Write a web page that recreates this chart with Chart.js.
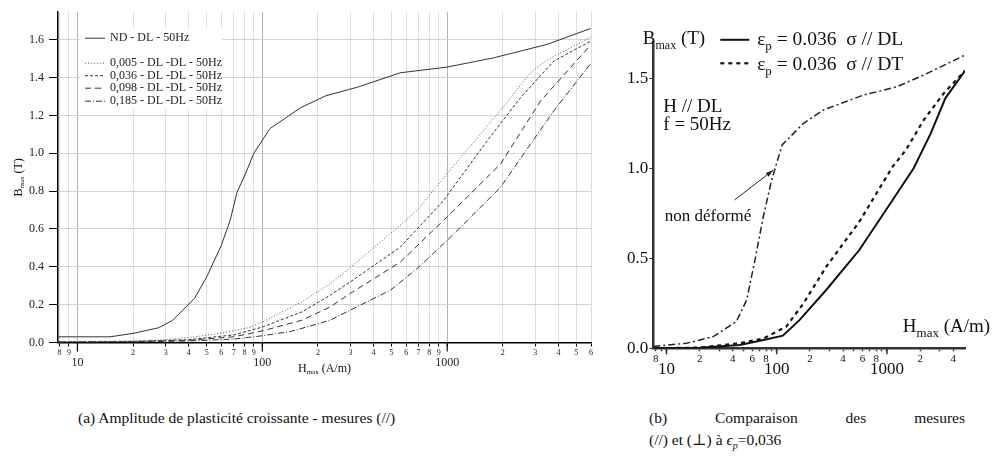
<!DOCTYPE html>
<html>
<head>
<meta charset="utf-8">
<script src="https://cdn.jsdelivr.net/npm/chart.js@4.4.1/dist/chart.umd.min.js"></script>
<style>
  body { margin: 0; background: #fff; width: 993px; height: 474px; position: relative; overflow: hidden; }
  #chartA { position: absolute; left: 0; top: 0; }
  #chartB { position: absolute; left: 605px; top: 0; }
  .cap { position: absolute; font-family: "Liberation Serif", "Tinos", "Times New Roman", "DejaVu Serif", serif; font-size: 15.5px; color: #111; white-space: nowrap; }
  #capA { left: 78px; top: 409px; }
  #capB1 { left: 649px; top: 409px; width: 316px; display: flex; justify-content: space-between; }
  #capB2 { left: 649px; top: 431px; }
</style>
</head>
<body>
<canvas id="chartA" width="600" height="400"></canvas>
<canvas id="chartB" width="388" height="400"></canvas>
<div class="cap" id="capA">(a) Amplitude de plasticité croissante - mesures (//)</div>
<div class="cap" id="capB1"><span>(b)</span><span>Comparaison</span><span>des</span><span>mesures</span></div>
<div class="cap" id="capB2">(//) et (⊥) à <i>ϵ<sub style="font-size:10px">p</sub></i>=0,036</div>

<script>
// ---- (a) amplitude de plasticité croissante ----
const hNd = [7.9, 10, 15, 20, 27.5, 32.5, 43, 50, 60, 67, 73, 81, 90, 110, 161, 220, 330, 558, 1000, 1786, 3475, 5970]
const bNd = [0.03, 0.03, 0.03, 0.048, 0.078, 0.115, 0.233, 0.346, 0.513, 0.645, 0.794, 0.89, 1.0, 1.13, 1.24, 1.303, 1.35, 1.425, 1.455, 1.504, 1.575, 1.659]
const h005 = [7.9, 20, 30, 43, 60, 84, 101, 164, 233, 299, 493, 687, 956, 1866, 2825, 3400, 5970]
const b005 = [0.005, 0.008, 0.015, 0.03, 0.05, 0.078, 0.11, 0.215, 0.31, 0.396, 0.575, 0.697, 0.87, 1.206, 1.425, 1.487, 1.613]
const h036 = [7.9, 20, 40, 70, 101, 164, 233, 299, 558, 956, 1648, 2496, 3776, 5970]
const b036 = [0.003, 0.006, 0.015, 0.04, 0.083, 0.162, 0.25, 0.32, 0.504, 0.75, 1.066, 1.294, 1.487, 1.592]
const h098 = [7.9, 20, 40, 70, 101, 164, 233, 299, 558, 956, 1944, 3200, 5970]
const b098 = [0.002, 0.004, 0.012, 0.03, 0.062, 0.118, 0.188, 0.259, 0.425, 0.645, 0.943, 1.276, 1.571]
const h185 = [7.9, 20, 40, 70, 101, 142, 164, 233, 299, 493, 687, 1000, 1944, 2825, 3776, 5970]
const b185 = [0.001, 0.003, 0.008, 0.018, 0.036, 0.058, 0.075, 0.118, 0.171, 0.276, 0.39, 0.539, 0.82, 1.048, 1.224, 1.473]
const labelsA = ['ND - DL - 50Hz', '0,005 - DL -DL - 50Hz', '0,036 - DL -DL - 50Hz', '0,098 - DL -DL - 50Hz', '0,185 - DL -DL - 50Hz']
const xTicksA = [8, 9, 10, 20, 30, 40, 50, 60, 70, 80, 90, 100, 200, 300, 400, 500, 600, 700, 800, 900, 1000, 2000, 3000, 4000, 5000, 6000]
const majorA = [10, 100, 1000]
const yTicksA = [0, 0.2, 0.4, 0.6, 0.8, 1.0, 1.2, 1.4, 1.6]

// ---- (b) comparaison // et perpendiculaire ----
const hDL = [7.6, 20, 46, 76, 113.5, 160, 281, 561, 1125, 1745, 2476, 3390, 5100]
const bDL = [0, 0.003, 0.018, 0.046, 0.07, 0.155, 0.324, 0.546, 0.824, 1.0, 1.19, 1.39, 1.542]
const hDT = [7.6, 20, 46, 76, 122, 175, 281, 561, 1125, 1486, 2153, 3273, 5100]
const bDT = [0, 0.004, 0.028, 0.055, 0.12, 0.25, 0.453, 0.703, 1.009, 1.102, 1.268, 1.417, 1.542]
const hRef = [7.6, 15.2, 26.6, 43, 53.4, 63.5, 75.5, 90, 112, 175, 265, 612, 1232, 2153, 5100]
const bRef = [0.01, 0.028, 0.065, 0.148, 0.268, 0.49, 0.731, 0.935, 1.13, 1.25, 1.324, 1.407, 1.453, 1.518, 1.629]
const xTicksB = [8, 9, 10, 20, 30, 40, 50, 60, 70, 80, 90, 100, 200, 300, 400, 500, 600, 700, 800, 900, 1000, 2000, 3000, 4000]
const labeledB = [8, 20, 40, 60, 80, 200, 400, 600, 800, 2000, 4000]
const majorB = [10, 100, 1000]
const yTicksB = [0, 0.5, 1.0, 1.5]

const SERIF = '"Liberation Serif", "Tinos", "Times New Roman", "DejaVu Serif", serif'
const pts = (hs, bs) => hs.map((h, i) => ({ x: h, y: bs[i] }))

// text with sub-parts: [text, size, dy]
function drawRich(ctx, x, y, parts, align) {
  let w = 0
  parts.forEach(p => { ctx.font = p[1] + 'px ' + SERIF; w += ctx.measureText(p[0]).width })
  if (align === 'center') x -= w / 2
  parts.forEach(p => {
    ctx.font = p[1] + 'px ' + SERIF
    ctx.fillText(p[0], x, y + (p[2] || 0))
    x += ctx.measureText(p[0]).width
  })
}

function line(ctx, x1, y1, x2, y2, ds) {
  ctx.save()
  ctx.strokeStyle = ds.borderColor
  ctx.lineWidth = ds.borderWidth
  ctx.setLineDash(ds.borderDash || [])
  ctx.beginPath()
  ctx.moveTo(x1, y1)
  ctx.lineTo(x2, y2)
  ctx.stroke()
  ctx.restore()
}

const decorA = {
  id: 'decorA',
  afterDraw(chart) {
    const { ctx, chartArea: a, scales } = chart
    // longer ticks on decades
    ctx.save()
    ctx.strokeStyle = '#000'
    ctx.lineWidth = 1.2
    majorA.forEach(v => {
      const px = scales.x.getPixelForValue(v)
      ctx.beginPath(); ctx.moveTo(px, a.bottom); ctx.lineTo(px, a.bottom + 9); ctx.stroke()
    })
    // legend inside plot
    ctx.fillStyle = '#fff'
    ctx.fillRect(a.left + 22, a.top + 16, 142, 81)
    ctx.fillStyle = '#222'
    ctx.textBaseline = 'middle'
    const rows = [26, 51, 63.5, 76, 89]
    chart.data.datasets.forEach((ds, i) => {
      const y = a.top + rows[i]
      line(ctx, a.left + 27, y, a.left + 47, y, ds)
      ctx.font = '12px ' + SERIF
      ctx.fillText(ds.label, a.left + 52, y)
    })
    // axis titles
    ctx.textBaseline = 'alphabetic'
    ctx.fillStyle = '#111'
    drawRich(ctx, (a.left + a.right) / 2, a.bottom + 29, [['H', 12], ['max', 7, 2], [' (A/m)', 12]], 'center')
    ctx.translate(21.5, (a.top + a.bottom) / 2)
    ctx.rotate(-Math.PI / 2)
    drawRich(ctx, 0, 0, [['B', 12], ['max', 7, 2], [' (T)', 12]], 'center')
    ctx.restore()
  }
}

const decorB = {
  id: 'decorB',
  afterDraw(chart) {
    const { ctx, chartArea: a, scales } = chart
    const ds = chart.data.datasets
    ctx.save()
    ctx.strokeStyle = '#333'
    ctx.lineWidth = 1.5
    majorB.forEach(v => {
      const px = scales.x.getPixelForValue(v)
      ctx.beginPath(); ctx.moveTo(px, a.bottom); ctx.lineTo(px, a.bottom + 6); ctx.stroke()
    })
    ctx.fillStyle = '#111'
    ctx.textBaseline = 'alphabetic'
    drawRich(ctx, a.left - 10.5, a.top + 1.5, [['B', 19], ['max', 12, 5], [' (T)', 19]])
    // legend
    line(ctx, a.left + 67, a.top - 2.5, a.left + 96, a.top - 2.5, ds[0])
    line(ctx, a.left + 67, a.top + 21, a.left + 96, a.top + 21, ds[1])
    drawRich(ctx, a.left + 104, a.top + 2.7, [['ε', 19], ['p', 13, 5], [' = 0.036  σ // DL', 19.5]])
    drawRich(ctx, a.left + 104, a.top + 27.7, [['ε', 19], ['p', 13, 5], [' = 0.036  σ // DT', 19.5]])
    drawRich(ctx, a.left + 10, a.top + 69.4, [['H // DL', 19]])
    drawRich(ctx, a.left + 10, a.top + 87.7, [['f = 50Hz', 19]])
    drawRich(ctx, a.left + 249.5, a.bottom - 16.3, [['H', 19], ['max', 13, 5], [' (A/m)', 19]])
    drawRich(ctx, a.left + 11.5, a.top + 178.5, [['non déformé', 17]])
    // arrow toward the non-deformed curve
    const x1 = scales.x.getPixelForValue(41.5), y1 = scales.y.getPixelForValue(0.824)
    const x2 = scales.x.getPixelForValue(93), y2 = scales.y.getPixelForValue(0.99)
    ctx.strokeStyle = '#222'
    ctx.lineWidth = 1
    ctx.beginPath(); ctx.moveTo(x1, y1); ctx.lineTo(x2, y2); ctx.stroke()
    const ang = Math.atan2(y2 - y1, x2 - x1)
    ctx.fillStyle = '#222'
    ctx.beginPath()
    ctx.moveTo(x2, y2)
    ctx.lineTo(x2 - 8 * Math.cos(ang - 0.3), y2 - 8 * Math.sin(ang - 0.3))
    ctx.lineTo(x2 - 8 * Math.cos(ang + 0.3), y2 - 8 * Math.sin(ang + 0.3))
    ctx.closePath()
    ctx.fill()
    ctx.restore()
  }
}

new Chart(document.getElementById('chartA'), {
  type: 'line',
  data: {
    datasets: [
      { label: labelsA[0], data: pts(hNd, bNd), borderColor: '#333', borderWidth: 1, borderDash: [] },
      { label: labelsA[1], data: pts(h005, b005), borderColor: '#555', borderWidth: 1, borderDash: [1, 2] },
      { label: labelsA[2], data: pts(h036, b036), borderColor: '#333', borderWidth: 1, borderDash: [3, 2] },
      { label: labelsA[3], data: pts(h098, b098), borderColor: '#333', borderWidth: 1, borderDash: [6, 4] },
      { label: labelsA[4], data: pts(h185, b185), borderColor: '#333', borderWidth: 1, borderDash: [6, 2, 1, 2] }
    ]
  },
  options: {
    responsive: false,
    devicePixelRatio: 1,
    animation: false,
    layout: { padding: { left: 0, top: 11, right: 9, bottom: 0 } },
    elements: { point: { radius: 0 }, line: { tension: 0, fill: false } },
    plugins: { legend: { display: false }, tooltip: { enabled: false } },
    scales: {
      x: {
        type: 'logarithmic',
        min: 7.85,
        max: 6000,
        afterBuildTicks: s => { s.ticks = xTicksA.map(v => ({ value: v })) },
        afterFit: s => { s.height = 57.5 },
        border: { color: '#000', width: 1.5 },
        grid: {
          color: c => majorA.includes(c.tick.value) ? '#b4b4b4' : '#dedede',
          tickColor: '#000',
          tickLength: 4
        },
        ticks: {
          autoSkip: false,
          maxRotation: 0,
          minRotation: 0,
          padding: 1.5,
          color: '#222',
          callback: v => majorA.includes(v) ? ['', String(v)] : String(v).charAt(0),
          font: c => majorA.includes(c.tick.value)
            ? { family: SERIF, size: 12, lineHeight: 0.82 }
            : { family: SERIF, size: 8, lineHeight: 1.2 }
        }
      },
      y: {
        min: 0,
        max: 1.745,
        afterBuildTicks: s => { s.ticks = yTicksA.map(v => ({ value: v })) },
        afterFit: s => { s.width = 58 },
        border: { color: '#000', width: 1.5 },
        grid: { color: '#d4d4d4', tickColor: '#000', tickLength: 9 },
        ticks: {
          padding: 5,
          color: '#222',
          font: { family: SERIF, size: 12 },
          callback: v => v.toFixed(1)
        }
      }
    }
  },
  plugins: [decorA]
})

new Chart(document.getElementById('chartB'), {
  type: 'line',
  data: {
    datasets: [
      { label: 'DL', data: pts(hDL, bDL), borderColor: '#111', borderWidth: 2, borderDash: [] },
      { label: 'DT', data: pts(hDT, bDT), borderColor: '#111', borderWidth: 2.2, borderDash: [4, 4] },
      { label: 'non déformé', data: pts(hRef, bRef), borderColor: '#222', borderWidth: 1.5, borderDash: [7, 3, 2, 3] }
    ]
  },
  options: {
    responsive: false,
    devicePixelRatio: 1,
    animation: false,
    layout: { padding: { left: 0, top: 42.3, right: 28, bottom: 0 } },
    elements: { point: { radius: 0 }, line: { tension: 0, fill: false } },
    plugins: { legend: { display: false }, tooltip: { enabled: false } },
    scales: {
      x: {
        type: 'logarithmic',
        min: 7.6,
        max: 5100,
        afterBuildTicks: s => { s.ticks = xTicksB.map(v => ({ value: v })) },
        afterFit: s => { s.height = 51.7 },
        border: { color: '#333', width: 2.5 },
        grid: { drawOnChartArea: false, tickColor: '#333', tickLength: 3, tickWidth: 1.5 },
        ticks: {
          autoSkip: false,
          maxRotation: 0,
          minRotation: 0,
          padding: 1,
          color: '#111',
          callback: v => majorB.includes(v) ? ['', String(v)] : (labeledB.includes(v) ? String(v).charAt(0) : ''),
          font: c => majorB.includes(c.tick.value)
            ? { family: SERIF, size: 17, lineHeight: 0.665 }
            : { family: SERIF, size: 11, lineHeight: 1.2 }
        }
      },
      y: {
        min: 0,
        max: 1.7,
        afterBuildTicks: s => { s.ticks = yTicksB.map(v => ({ value: v })) },
        afterFit: s => { s.width = 48.3 },
        border: { color: '#333', width: 2.5 },
        grid: { drawOnChartArea: false, tickColor: '#333', tickLength: 4 },
        ticks: {
          padding: 1,
          color: '#111',
          font: { family: SERIF, size: 17 },
          callback: v => v.toFixed(1)
        }
      }
    }
  },
  plugins: [decorB]
})
</script>
</body>
</html>
